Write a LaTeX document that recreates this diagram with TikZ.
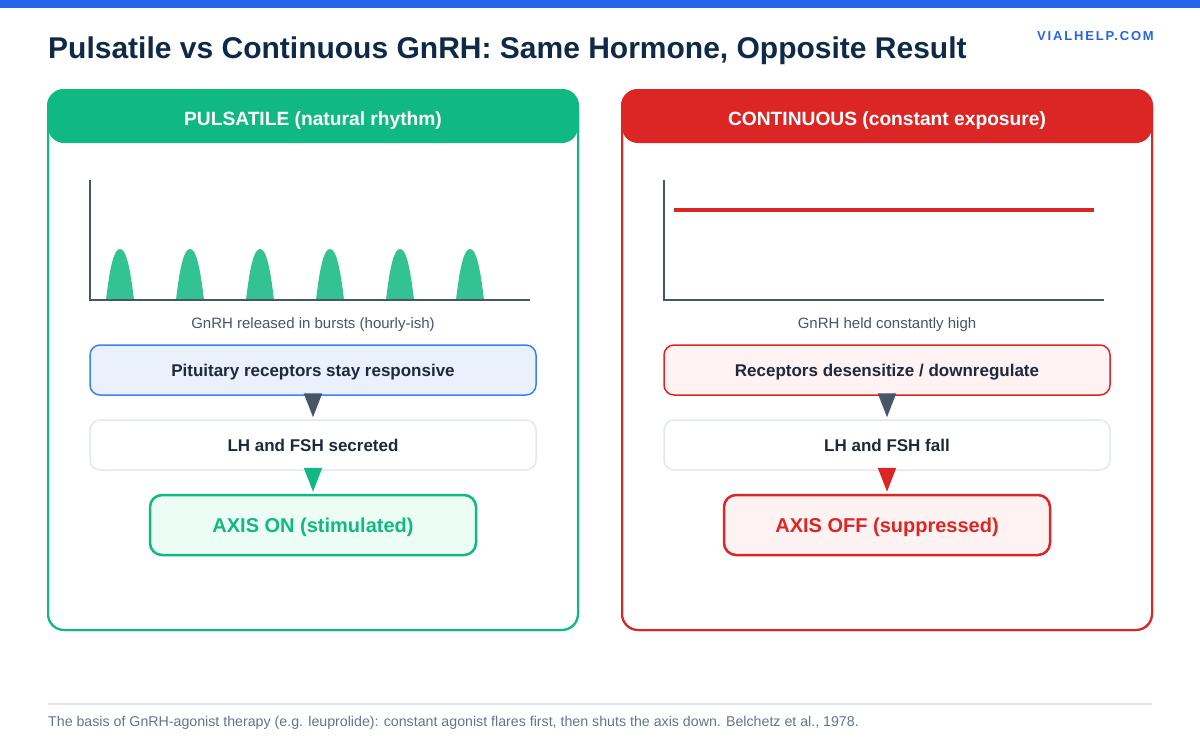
\documentclass[tikz,border=0pt]{standalone}
\usepackage{fontspec}
\setmainfont{Liberation Sans}
\newfontfamily\spacedfont[LetterSpace=14]{Liberation Sans}
\usetikzlibrary{arrows.meta}
\definecolor{topblue}{HTML}{2563EB}
\definecolor{titlenavy}{HTML}{0F2A47}
\definecolor{pgreen}{HTML}{10B981}
\definecolor{pred}{HTML}{DC2626}
\definecolor{slate}{HTML}{475569}
\definecolor{darktext}{HTML}{1E293B}
\definecolor{foottext}{HTML}{64748B}
\definecolor{lightgray}{HTML}{E2E8F0}
\definecolor{lblue}{HTML}{EAF1FD}
\definecolor{bblue}{HTML}{3B82F6}
\definecolor{lgreen}{HTML}{ECFDF5}
\definecolor{lred}{HTML}{FEF2F2}
\tikzset{
  panel/.style={rounded corners=16pt, line width=2pt, fill=white},
  capcenter/.style={text depth=0pt},
  header/.style={text depth=0pt, text height=17pt, rounded corners=16pt, minimum width=530pt, minimum height=53pt, inner sep=0pt, text=white, font=\fontsize{19.2}{23}\selectfont\bfseries},
  axisline/.style={slate, line width=1.8pt},
  caption/.style={capcenter, text=slate, font=\fontsize{15}{18}\selectfont, inner sep=0pt},
  stepbox/.style={capcenter, rounded corners=10pt, minimum width=446pt, minimum height=50pt, inner sep=0pt, line width=1.5pt, text=darktext, font=\fontsize{17}{20}\selectfont\bfseries},
  resultbox/.style={capcenter, rounded corners=12pt, minimum width=326pt, minimum height=60pt, inner sep=0pt, line width=2.5pt, font=\fontsize{20}{24}\selectfont\bfseries},
  flow/.style={line width=2pt, shorten >=2pt, -{Triangle[length=24pt,width=18pt]}},
}
\begin{document}
\begin{tikzpicture}[x=1pt,y=-1pt]
\useasboundingbox (0,0) rectangle (1200,750);
\fill[topblue] (0,0) rectangle (1200,8);
\node[anchor=base west, inner sep=0pt, text=titlenavy, font=\fontsize{30}{36}\selectfont\bfseries] (title) at (48,58.5) {Pulsatile vs Continuous GnRH: Same Hormone, Opposite Result};
\node[anchor=base east, inner sep=0pt, text=topblue, font=\spacedfont\fontsize{13}{16}\selectfont\bfseries] (brand) at (1154,40) {VIALHELP.COM};

% Left panel
\draw[panel, draw=pgreen] (48,90) rectangle (578,630);
\node[header, fill=pgreen] (lhead) at (313,116.5) {PULSATILE (natural rhythm)};
\draw[pgreen, line width=2pt, rounded corners=16pt] (48,90) rectangle (578,630);
\foreach \c in {120,190,260,330,400,470} {
  \fill[pgreen, fill opacity=0.85] (\c-14,300) .. controls (\c-10,266) and (\c-6,249) .. (\c,249) .. controls (\c+6,249) and (\c+10,266) .. (\c+14,300) -- cycle;
}
\coordinate (lo) at (90,300);
\coordinate (ly) at (90,180);
\coordinate (lx) at (530,300);
\draw[axisline] (ly) -- (lo) -- (lx);
\node[caption] (lcap) at (313,323) {GnRH released in bursts (hourly-ish)};
\node[stepbox, draw=bblue, fill=lblue] (l1) at (313,370) {Pituitary receptors stay responsive};
\node[stepbox, draw=lightgray, fill=white] (l2) at (313,445) {LH and FSH secreted};
\node[resultbox, draw=pgreen, fill=lgreen, text=pgreen] (l3) at (313,525) {AXIS ON (stimulated)};
\draw[flow, slate] (l1.south) -- (l2.north);
\draw[flow, pgreen] (l2.south) -- (l3.north);

% Right panel
\draw[panel, draw=pred] (622,90) rectangle (1152,630);
\node[header, fill=pred] (rhead) at (887,116.5) {CONTINUOUS (constant exposure)};
\draw[pred, line width=2pt, rounded corners=16pt] (622,90) rectangle (1152,630);
\coordinate (ro) at (664,300);
\coordinate (ry) at (664,180);
\coordinate (rx) at (1104,300);
\draw[axisline] (ry) -- (ro) -- (rx);
\coordinate (hs) at (674,210);
\coordinate (he) at (1094,210);
\draw[pred, line width=4pt] (hs) -- (he);
\node[caption] (rcap) at (887,323) {GnRH held constantly high};
\node[stepbox, draw=pred, fill=lred] (r1) at (887,370) {Receptors desensitize / downregulate};
\node[stepbox, draw=lightgray, fill=white] (r2) at (887,445) {LH and FSH fall};
\node[resultbox, draw=pred, fill=lred, text=pred] (r3) at (887,525) {AXIS OFF (suppressed)};
\draw[flow, slate] (r1.south) -- (r2.north);
\draw[flow, pred] (r2.south) -- (r3.north);

% Footer
\coordinate (fl) at (48,704);
\coordinate (fr) at (1152,704);
\draw[lightgray, line width=1.5pt] (fl) -- (fr);
\node[anchor=base west, inner sep=0pt, text=foottext, font=\fontsize{14.2}{17}\selectfont] (foot) at (48,726) {The basis of GnRH-agonist therapy (e.g. leuprolide): constant agonist flares first, then shuts the axis down. Belchetz et al., 1978.};
\end{tikzpicture}
\end{document}
